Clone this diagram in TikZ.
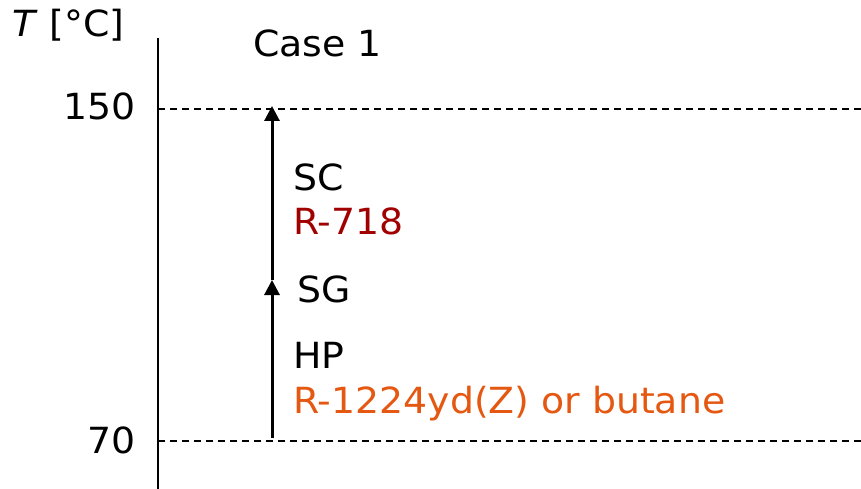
\documentclass[tikz,border=0pt]{standalone}
\usepackage{fontspec}
\setmainfont[FakeStretch=1.05]{DejaVu Sans}
\usetikzlibrary{arrows.meta}
\definecolor{steamred}{RGB}{160,0,0}
\definecolor{hporange}{RGB}{228,88,18}
\begin{document}
\begin{tikzpicture}[x=1pt,y=-1pt,
  txt/.style={inner sep=0pt,font=\fontsize{36}{43}\selectfont},
  lbl/.style={txt,anchor=base west},
  tick/.style={txt,anchor=base east},
  level/.style={line width=1.6pt,dash pattern=on 7pt off 5pt},
  axis/.style={line width=2pt},
  stage/.style={line width=3pt,-{Triangle[length=15pt,width=15pt]}}]
\useasboundingbox (0,0) rectangle (861,489);

% temperature axis
\coordinate (axtop) at (158,38);
\coordinate (axbot) at (158,489);
\draw[axis] (axtop) -- (axbot);
\node[lbl] (tlabel) at (12,37) {\textit{T} [°C]};

% temperature levels
\coordinate (l150a) at (158,109);
\coordinate (l150b) at (861,109);
\coordinate (l70a) at (158,441);
\coordinate (l70b) at (861,441);
\draw[level] (l150a) -- (l150b);
\draw[level] (l70a) -- (l70b);
\node[tick] (t150) at (136,120) {150};
\node[tick] (t70) at (136,453) {70};

\node[lbl] (case) at (253,57) {Case 1};

% heat pump and steam compressor stages
\coordinate (p70) at (272,438);
\coordinate (psg) at (272,280);
\coordinate (p150) at (272,106);
\draw[stage] (p70) -- (psg);
\draw[stage] (psg) -- (p150);

\node[lbl] (sc) at (293,190) {SC};
\node[lbl,text=steamred] (r718) at (293,234) {R-718};
\node[lbl] (sg) at (297,302) {SG};
\node[lbl] (hp) at (293,368) {HP};
\node[lbl,text=hporange] (r1224) at (293,413) {R-1224yd(Z) or butane};
\end{tikzpicture}
\end{document}
